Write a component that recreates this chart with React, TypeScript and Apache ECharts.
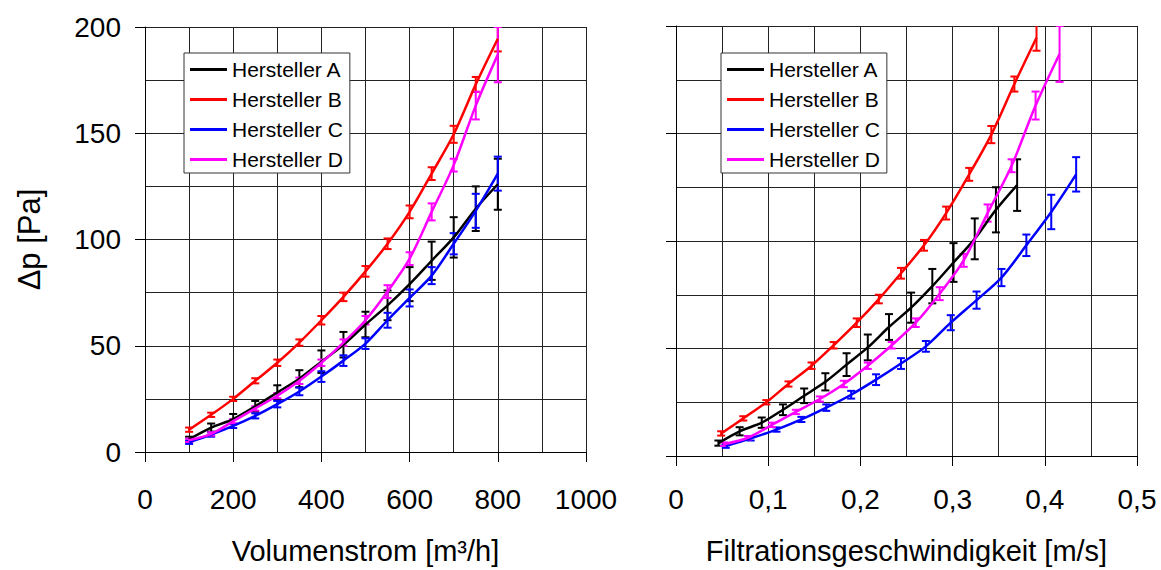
import React, { useEffect, useRef } from "react";
import * as echarts from "echarts";

// Volume flow [m³/h] (left panel x)
const volumeFlow = [100, 150, 200, 250, 300, 350, 400, 450, 500, 550, 600, 650, 700, 750, 800];

// Filtration velocity [m/s] per manufacturer (right panel x)
const velA = [0.046, 0.069, 0.093, 0.116, 0.139, 0.162, 0.185, 0.208, 0.231, 0.255, 0.278, 0.301, 0.324, 0.347, 0.370];
const velB = [0.049, 0.073, 0.098, 0.122, 0.147, 0.171, 0.196, 0.220, 0.244, 0.269, 0.293, 0.318, 0.342, 0.367, 0.391];
const velC = [0.054, 0.081, 0.109, 0.136, 0.163, 0.190, 0.217, 0.244, 0.271, 0.298, 0.326, 0.353, 0.380, 0.407, 0.434];
const velD = [0.052, 0.078, 0.104, 0.130, 0.156, 0.182, 0.208, 0.234, 0.260, 0.286, 0.312, 0.338, 0.364, 0.390, 0.416];

// Pressure drop Δp [Pa]
const dpA = [6, 11.5, 15.5, 21.5, 28, 34.5, 42.5, 50.5, 60, 69, 79, 90, 101, 114.5, 126];
const dpB = [10.5, 17.5, 25, 33.5, 42, 51.5, 62, 73, 85, 98, 113, 131, 149.5, 173, 194.5];
const dpC = [4.6, 8.2, 12.3, 17, 22.5, 28.5, 35.5, 43, 51, 62, 72.5, 83, 98, 113.5, 131];
const dpD = [5.5, 8.5, 14.5, 20.5, 26.5, 33.5, 42, 51.5, 62, 75.5, 91, 113, 135, 163, 187];

// Error (±) [Pa]
const errA = [1.2, 1.9, 2.4, 2.5, 3.4, 4, 5.3, 6, 6, 7, 8, 9, 9.5, 10.5, 12];
const errB = [1, 1, 1, 1.2, 1.5, 1.5, 2, 2, 2.5, 2.5, 3, 3, 4, 3.5, 6];
const errC = [0.8, 1, 1, 1.2, 1.5, 1.8, 2.5, 2.5, 2.5, 3.5, 4, 4, 5, 8, 8];
const errD = [0.8, 0.8, 1, 1, 1.2, 1.5, 1.5, 1.5, 2, 3, 3, 4, 3, 6.5, 13];

const names = ["Hersteller A", "Hersteller B", "Hersteller C", "Hersteller D"];
const colors = ["#000000", "#ff0000", "#0000ff", "#ff00ff"];

const FONT = "'Liberation Sans', Arial, sans-serif";

function errRender(params: any, api: any) {
  const x = api.value(0);
  const lo = api.value(1);
  const hi = api.value(2);
  const p1 = api.coord([x, hi]);
  const p2 = api.coord([x, lo]);
  const w = 4;
  const style = { stroke: api.visual("color"), lineWidth: 2 };
  return {
    type: "group",
    children: [
      { type: "line", shape: { x1: p1[0], y1: p1[1], x2: p2[0], y2: p2[1] }, style },
      { type: "line", shape: { x1: p1[0] - w, y1: p1[1], x2: p1[0] + w, y2: p1[1] }, style },
      { type: "line", shape: { x1: p2[0] - w, y1: p2[1], x2: p2[0] + w, y2: p2[1] }, style },
    ],
  };
}

export default function App() {
  const ref = useRef<HTMLDivElement>(null);

  useEffect(() => {
    if (!ref.current) return;
    const chart = echarts.init(ref.current, null, { renderer: "svg" });

    const dps = [dpA, dpB, dpC, dpD];
    const errs = [errA, errB, errC, errD];
    const vels = [velA, velB, velC, velD];

    const series: any[] = [];
    [0, 1].forEach((panel) => {
      for (let i = 0; i < 4; i++) {
        const xs = panel === 0 ? volumeFlow : vels[i];
        series.push({
          type: "custom",
          name: names[i] + " err " + panel,
          xAxisIndex: panel,
          yAxisIndex: panel,
          renderItem: errRender,
          clip: true,
          itemStyle: { color: colors[i] },
          data: xs.map((x, k) => [x, dps[i][k] - errs[i][k], dps[i][k] + errs[i][k]]),
          z: 3,
        });
      }
      for (let i = 0; i < 4; i++) {
        const xs = panel === 0 ? volumeFlow : vels[i];
        series.push({
          type: "line",
          name: names[i],
          xAxisIndex: panel,
          yAxisIndex: panel,
          smooth: 0.3,
          symbol: "none",
          clip: true,
          lineStyle: { color: colors[i], width: 2.5 },
          itemStyle: { color: colors[i] },
          data: xs.map((x, k) => [x, dps[i][k]]),
          z: 4,
        });
      }
    });

    const gridLine = { show: true, lineStyle: { color: "#222", width: 1 } };
    const axisLine = { show: true, onZero: false, lineStyle: { color: "#000", width: 1 } };
    const axisTick = { show: true, inside: false, length: 10, lineStyle: { color: "#000", width: 1 } };
    const labelStyle = { color: "#000", fontSize: 28, fontFamily: FONT };
    const nameStyle = { color: "#000", fontSize: 29, fontFamily: FONT };

    const legendBase = {
      orient: "vertical",
      top: 53,
      icon: "rect",
      itemWidth: 37,
      itemHeight: 3,
      itemGap: 9,
      padding: [6, 7, 3, 6],
      borderColor: "#333",
      borderWidth: 1,
      backgroundColor: "#fff",
      selectedMode: false,
      data: names,
      textStyle: { color: "#000", fontSize: 21, fontFamily: FONT, lineHeight: 21 },
    };

    chart.setOption({
      animation: false,
      backgroundColor: "#fff",
      textStyle: { fontFamily: FONT },
      grid: [
        { left: 145, right: 575, top: 27, bottom: 110, containLabel: false },
        { left: 676, right: 24, top: 26, bottom: 106, containLabel: false },
      ],
      legend: [
        { ...legendBase, left: 184 },
        { ...legendBase, left: 721 },
      ],
      xAxis: [
        {
          type: "value",
          gridIndex: 0,
          min: 0,
          max: 1000,
          interval: 200,
          name: "Volumenstrom [m³/h]",
          nameLocation: "middle",
          nameGap: 84,
          nameTextStyle: { ...nameStyle },
          axisLine,
          axisTick,
          axisLabel: { ...labelStyle, margin: 33, formatter: (v: number) => String(v) },
          splitLine: gridLine,
          minorTick: { show: false, splitNumber: 2 },
          minorSplitLine: gridLine,
        },
        {
          type: "value",
          gridIndex: 1,
          min: 0,
          max: 0.5,
          interval: 0.1,
          name: "Filtrationsgeschwindigkeit [m/s]",
          nameLocation: "middle",
          nameGap: 80,
          nameTextStyle: { ...nameStyle },
          axisLine,
          axisTick,
          axisLabel: {
            ...labelStyle,
            margin: 29,
            formatter: (v: number) => (v === 0 ? "0" : Number(v.toFixed(1)).toString().replace(".", ",")),
          },
          splitLine: gridLine,
          minorTick: { show: false, splitNumber: 2 },
          minorSplitLine: gridLine,
        },
      ],
      yAxis: [
        {
          type: "value",
          gridIndex: 0,
          min: 0,
          max: 200,
          interval: 50,
          name: "Δp [Pa]",
          nameLocation: "middle",
          nameGap: 100,
          nameTextStyle: { color: "#000", fontSize: 31, fontFamily: FONT },
          axisLine,
          axisTick,
          axisLabel: { ...labelStyle, margin: 24 },
          splitLine: gridLine,
          minorTick: { show: false, splitNumber: 2 },
          minorSplitLine: gridLine,
        },
        {
          type: "value",
          gridIndex: 1,
          min: 0,
          max: 200,
          interval: 50,
          axisLine,
          axisTick,
          axisLabel: { show: false },
          splitLine: gridLine,
          minorTick: { show: false, splitNumber: 2 },
          minorSplitLine: gridLine,
        },
      ],
      series,
    });

    return () => chart.dispose();
  }, []);

  return (
    <div
      ref={ref}
      style={{ position: "absolute", left: 0, top: 0, width: 1161, height: 570, background: "#fff" }}
    />
  );
}
